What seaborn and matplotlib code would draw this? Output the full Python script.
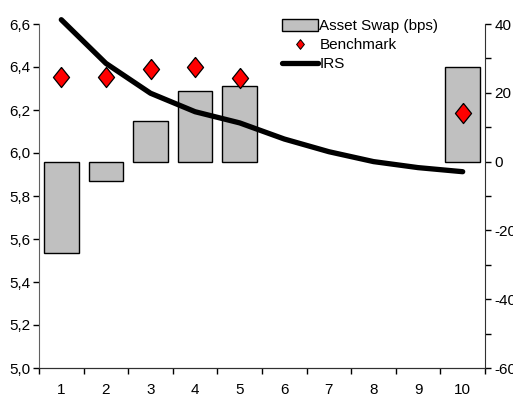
import numpy as np
import pandas as pd
import matplotlib
matplotlib.use("Agg")
import matplotlib.pyplot as plt
from matplotlib.patches import Patch
from matplotlib.lines import Line2D
from matplotlib.ticker import MultipleLocator, FixedLocator, FuncFormatter
import seaborn as sns

categories = ["1", "2", "3", "4", "5", "6", "7", "8", "9", "10"]
asset_swap = [-26.5, -5.6, 11.9, 20.6, 21.9, np.nan, np.nan, np.nan, np.nan, 27.5]
benchmark = [6.352, 6.352, 6.392, 6.401, 6.350, np.nan, np.nan, np.nan, np.nan, 6.187]
irs = [6.62, 6.417, 6.278, 6.192, 6.140, 6.065, 6.006, 5.960, 5.932, 5.913]

sns.set_style("white")
plt.rcParams['font.family'] = ['Liberation Sans', 'DejaVu Sans']
plt.rcParams['font.size'] = 11
plt.rcParams['axes.unicode_minus'] = False
plt.rcParams['text.color'] = 'black'
plt.rcParams['xtick.color'] = 'black'
plt.rcParams['ytick.color'] = 'black'

fig = plt.figure(figsize=(5.13, 3.94), dpi=100)
ax = fig.add_axes([39/513, 1-368/394, (485-39)/513, (368-24)/394])

df_bar = pd.DataFrame({"cat": categories, "swap": asset_swap})
sns.barplot(data=df_bar, x="cat", y="swap", order=categories, ax=ax,
            color="#C0C0C0", edgecolor="black", linewidth=1.0, width=0.78,
            saturation=1, errorbar=None)
ax.set_ylim(-60, 40)
ax.set_xlim(-0.5, 9.5)

ax2 = ax.twinx()
pos = np.arange(len(categories))
df_line = pd.DataFrame({"x": pos, "irs": irs, "bench": benchmark})
sns.lineplot(data=df_line, x="x", y="irs", ax=ax2, color="black", linewidth=3.8,
             clip_on=False)
diamond = [(0, 1), (0.8, 0), (0, -1), (-0.8, 0), (0, 1)]
sns.scatterplot(data=df_line.dropna(), x="x", y="bench", ax=ax2, marker=diamond,
                s=14.5**2, color="#FF0000", edgecolor="black", linewidth=0.9,
                zorder=5, clip_on=False)
ax2.set_ylim(5.0, 6.6)
ax2.set_xlim(-0.5, 9.5)

# Right axis (bars, bps) ticks on right
ax.yaxis.tick_right()
ax.yaxis.set_label_position("right")
ax.yaxis.set_major_locator(MultipleLocator(20))
ax.yaxis.set_minor_locator(MultipleLocator(10))
ax.tick_params(axis="y", which="major", direction="out", length=4, width=1,
               pad=3, labelsize=11, right=True, left=False, colors="black")
ax.tick_params(axis="y", which="minor", direction="out", length=4, width=1,
               right=True, left=False)
ax.set_ylabel("")
ax.set_xlabel("")

# Left axis (percent) on left
ax2.yaxis.tick_left()
ax2.yaxis.set_label_position("left")
ax2.set_yticks(np.round(np.arange(5.0, 6.61, 0.2), 1))
ax2.yaxis.set_major_formatter(FuncFormatter(lambda v, p: f"{v:.1f}".replace(".", ",")))
ax2.tick_params(axis="y", direction="out", length=4, width=1, pad=2,
                labelsize=11, left=True, right=False)
ax2.set_ylabel("")
ax2.set_xlabel("")
ax2.set_xticks([])

# x ticks: labels at centers, marks at boundaries
ax.set_xticks(pos)
ax.set_xticklabels(categories)
ax.xaxis.set_minor_locator(FixedLocator(np.arange(-0.5, 10, 1.0)))
ax.tick_params(axis="x", which="major", length=0, pad=11, labelsize=11)
ax.tick_params(axis="x", which="minor", direction="out", length=4, width=1,
               bottom=True)

for a in (ax, ax2):
    a.spines["top"].set_visible(False)
    a.grid(False)
ax.spines["left"].set_visible(False)
ax2.spines["left"].set_color("#606060")
ax2.spines["right"].set_color("#303030")
ax2.spines["bottom"].set_color("#303030")
ax.spines["right"].set_visible(False)
ax.spines["bottom"].set_color("#303030")
ax2.patch.set_visible(False)

handles = [
    Patch(facecolor="#C0C0C0", edgecolor="black", linewidth=1.0),
    Line2D([], [], marker=diamond, markersize=7, color="#FF0000",
           markeredgecolor="black", markeredgewidth=0.7, linestyle="None"),
    Line2D([], [], color="black", linewidth=3.8),
]
fig.legend(handles, ["Asset Swap (bps)", "Benchmark", "IRS"],
           loc="upper left", bbox_to_anchor=(282/513, 1-19/394),
           frameon=False, borderpad=0, borderaxespad=0, handlelength=2.35,
           handleheight=0.85, handletextpad=0.1, labelspacing=0.3,
           fontsize=11)

fig.savefig("out.png", dpi=100)
